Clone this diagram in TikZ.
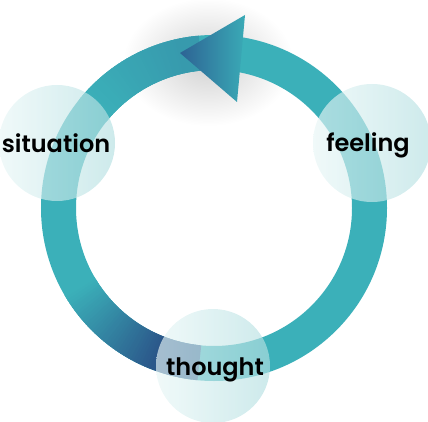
\documentclass[tikz,border=0pt]{standalone}
\usepackage{fontspec}
\newfontfamily\labfont{Poppins SemiBold}
\usetikzlibrary{calc}
\definecolor{rteal}{HTML}{3BB0B9}
\definecolor{rdark}{HTML}{2B578A}
\definecolor{tipdark}{HTML}{2D6394}
\definecolor{tipteal}{HTML}{3AAAB6}
\definecolor{cleft}{HTML}{E8F6F6}
\definecolor{cright}{HTML}{B3DFE1}
\tikzset{
  bubble/.style={circle, draw=none, inner sep=0pt, left color=cleft, right color=cright, fill opacity=0.65},
  lab/.style={font=\labfont\fontsize{24}{28}\selectfont, text=black, inner sep=0pt, anchor=base},
  ringseg/.style={line width=35pt, line cap=butt}
}
\begin{document}
\begin{tikzpicture}[x=1pt,y=-1pt]
\useasboundingbox (0,0) rectangle (428,422);
\coordinate (C) at (214,208);
% soft shadow around the arrow head
\shade[inner color=black!18, outer color=white] (208,62) ellipse[x radius=85pt, y radius=64pt];
% ring
\draw[ringseg, rteal] (C) circle[radius=155.5pt];
% dark gradient towards the thought bubble
\foreach \a in {210,...,263}{
  \pgfmathtruncatemacro\p{\a>=248 ? 100 : 100*(\a-210)/38}
  \draw[ringseg, draw=rdark!\p!rteal] ($(C)+(\a:155.5pt)$) arc[start angle=\a, end angle=\a+1.6, radius=155.5pt];
}
% slight darkening towards the arrow tip
\foreach \a in {95,...,140}{
  \pgfmathtruncatemacro\p{\a<=102 ? 25 : 25*(140-\a)/38}
  \draw[ringseg, draw=rdark!\p!rteal] ($(C)+(\a:155.5pt)$) arc[start angle=\a, end angle=\a+1.6, radius=155.5pt];
}
% arrow head
\coordinate (tip) at (180,53);
\coordinate (back1) at (245,15);
\coordinate (back2) at (237,102);
\shade[left color=tipdark, right color=tipteal] (tip) -- (back1) -- (back2) -- cycle;
% bubbles
\node[bubble, minimum size=116pt] (sitc) at (57,143) {};
\node[bubble, minimum size=118pt] (feelc) at (372,143) {};
\node[bubble, minimum size=114pt] (thoughtc) at (213,366) {};
% labels
\node[lab] (situation) at (56,153) {situation};
\node[lab] (feeling) at (368,152) {feeling};
\node[lab] (thought) at (215,375) {thought};
\end{tikzpicture}
\end{document}
